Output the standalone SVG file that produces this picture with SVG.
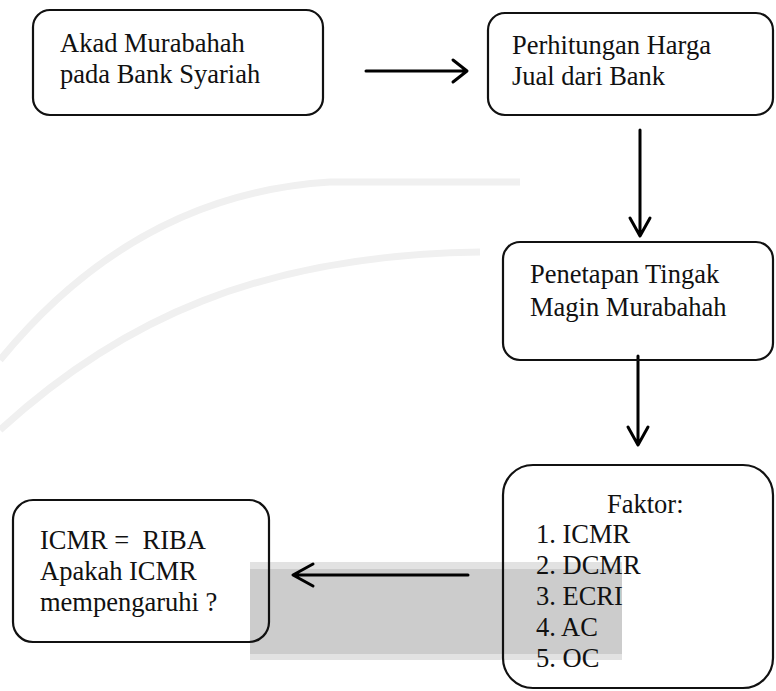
<svg xmlns="http://www.w3.org/2000/svg" width="776" height="691" viewBox="0 0 776 691">
<style>
.box{fill:none;stroke:#111;stroke-width:2.2}
.t{font-family:"Liberation Serif","Times New Roman",serif;font-size:26.5px;fill:#111;white-space:pre}
.ln{fill:none;stroke:#000;stroke-width:3;stroke-linecap:round;stroke-linejoin:round}
.wm{fill:none;stroke:#f0f0f0;stroke-width:7}
</style>
<rect width="776" height="691" fill="#fff"/>
<g id="watermark">
<path class="wm" d="M0,360 C90,250 200,190 330,182 L520,182"/>
<path class="wm" d="M0,430 C120,320 260,255 480,252"/>
<rect x="250" y="562" width="372" height="98" fill="#e2e2e2"/>
<rect x="250" y="569" width="372" height="85" fill="#cccccc"/>
</g>
<g id="connectors">
<path class="ln" d="M366,71 L466,71 M453,60 L467,71 L453,82"/>
<path class="ln" d="M640,130 L640,235 M630,218 L640,236 L650,218" stroke-width="2.6"/>
<path class="ln" d="M638,356 L638,444 M628,427 L638,445 L648,427" stroke-width="2.6"/>
<path class="ln" d="M468,575 L294,575 M313,564 L293,575 L313,586"/>
</g>
<g id="node1">
<rect class="box" x="33" y="10" width="290" height="105" rx="17"/>
<text class="t" x="60" y="52">Akad Murabahah</text>
<text class="t" x="60" y="83">pada Bank Syariah</text>
</g>
<g id="node2">
<rect class="box" x="488" y="13" width="285" height="102" rx="17"/>
<text class="t" x="512" y="54">Perhitungan Harga</text>
<text class="t" x="512" y="85">Jual dari Bank</text>
</g>
<g id="node3">
<rect class="box" x="503" y="242" width="270" height="118" rx="17"/>
<text class="t" x="530" y="283">Penetapan Tingak</text>
<text class="t" x="530" y="316">Magin Murabahah</text>
</g>
<g id="node4">
<rect class="box" x="503" y="465" width="270" height="223" rx="30"/>
<text class="t" x="607" y="513">Faktor:</text>
<text class="t" x="536" y="543">1. ICMR</text>
<text class="t" x="536" y="574">2. DCMR</text>
<text class="t" x="536" y="605">3. ECRI</text>
<text class="t" x="536" y="636">4. AC</text>
<text class="t" x="536" y="667">5. OC</text>
</g>
<g id="node5">
<rect class="box" x="13" y="500" width="256" height="142" rx="20"/>
<text class="t" x="40" y="549">ICMR =  RIBA</text>
<text class="t" x="40" y="580">Apakah ICMR</text>
<text class="t" x="40" y="611">mempengaruhi ?</text>
</g>
</svg>
